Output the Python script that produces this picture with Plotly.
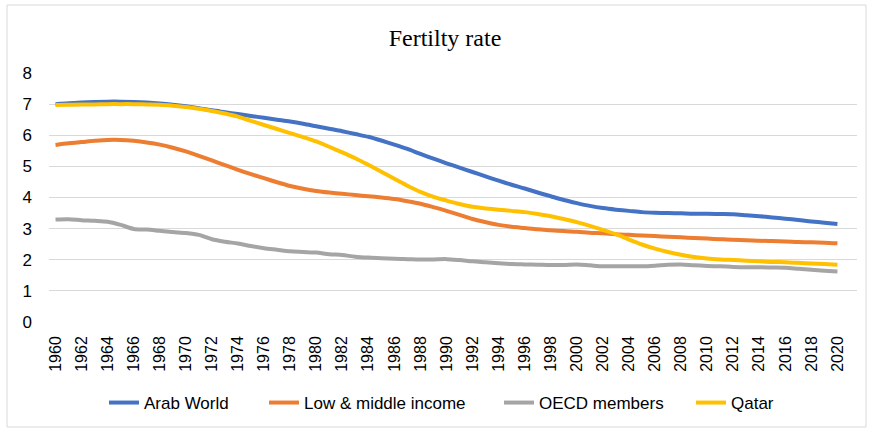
import plotly.graph_objects as go

years = list(range(1960, 2021))

arab_world = [7.00, 7.03, 7.05, 7.07, 7.08, 7.08, 7.07, 7.05, 7.02, 6.98,
              6.93, 6.87, 6.80, 6.74, 6.68, 6.62, 6.56, 6.50, 6.44, 6.37,
              6.29, 6.21, 6.13, 6.04, 5.95, 5.83, 5.70, 5.56, 5.40, 5.25,
              5.10, 4.96, 4.82, 4.68, 4.54, 4.41, 4.29, 4.16, 4.04, 3.92,
              3.82, 3.73, 3.66, 3.61, 3.57, 3.53, 3.51, 3.50, 3.49, 3.48,
              3.48, 3.47, 3.46, 3.43, 3.40, 3.36, 3.32, 3.28, 3.23, 3.19,
              3.15]

low_middle = [5.69, 5.74, 5.78, 5.82, 5.85, 5.85, 5.82, 5.77, 5.70, 5.60,
              5.48, 5.34, 5.19, 5.04, 4.89, 4.75, 4.62, 4.49, 4.37, 4.28,
              4.21, 4.16, 4.12, 4.08, 4.04, 4.00, 3.95, 3.88, 3.80, 3.69,
              3.57, 3.44, 3.31, 3.21, 3.12, 3.06, 3.02, 2.98, 2.95, 2.92,
              2.90, 2.87, 2.85, 2.82, 2.80, 2.78, 2.76, 2.74, 2.72, 2.70,
              2.68, 2.66, 2.64, 2.63, 2.61, 2.60, 2.59, 2.57, 2.56, 2.55,
              2.53]

oecd = [3.29, 3.30, 3.27, 3.25, 3.22, 3.12, 2.99, 2.97, 2.93, 2.89,
        2.86, 2.80, 2.66, 2.58, 2.52, 2.44, 2.37, 2.32, 2.27, 2.25,
        2.23, 2.18, 2.15, 2.10, 2.07, 2.05, 2.03, 2.02, 2.01, 2.01,
        2.02, 1.99, 1.95, 1.92, 1.89, 1.86, 1.85, 1.84, 1.83, 1.83,
        1.85, 1.82, 1.79, 1.79, 1.79, 1.79, 1.81, 1.84, 1.85, 1.82,
        1.80, 1.79, 1.77, 1.76, 1.76, 1.75, 1.74, 1.71, 1.68, 1.65,
        1.62]

qatar = [6.97, 6.98, 6.99, 6.99, 7.00, 7.00, 7.00, 6.99, 6.98, 6.95,
         6.91, 6.85, 6.78, 6.70, 6.60, 6.46, 6.33, 6.20, 6.07, 5.94,
         5.80, 5.63, 5.45, 5.26, 5.05, 4.83, 4.60, 4.38, 4.18, 4.02,
         3.90, 3.79, 3.70, 3.65, 3.61, 3.57, 3.53, 3.47, 3.40, 3.31,
         3.21, 3.09, 2.96, 2.82, 2.65, 2.49, 2.36, 2.25, 2.16, 2.09,
         2.04, 2.01, 1.99, 1.97, 1.95, 1.93, 1.92, 1.90, 1.88, 1.86,
         1.84]

series_names = ["Arab World", "Low & middle income", "OECD members", "Qatar"]
series_values = [arab_world, low_middle, oecd, qatar]
series_colors = ["#4472C4", "#ED7D31", "#A5A5A5", "#FFC000"]

tick_years = list(range(1960, 2021, 2))
y_ticks = list(range(0, 9))

W, H = 870, 431
L, R, T, B = 49, 13, 73, 109
pw = W - L - R
ph = H - T - B

legend_px = [110, 270, 505, 697]
legend_keys = ["legend", "legend2", "legend3", "legend4"]

fig = go.Figure()
for name, vals, col, lk in zip(series_names, series_values, series_colors, legend_keys):
    fig.add_trace(go.Scatter(
        x=years, y=vals, name=name, mode="lines", legend=lk,
        line=dict(color=col, width=4, shape="spline", smoothing=0.8),
        hoverinfo="skip",
    ))

legend_y = (ph - (403 - T)) / ph
legends = {}
for lk, px in zip(legend_keys, legend_px):
    legends[lk] = dict(orientation="h", x=(px - 6 - L) / pw, xanchor="left",
                       y=legend_y, yanchor="middle",
                       font=dict(family="Liberation Sans, Arial, sans-serif", size=17, color="#000000"),
                       bgcolor="rgba(0,0,0,0)", borderwidth=0)

fig.update_layout(
    width=W, height=H,
    margin=dict(l=L, r=R, t=T, b=B, autoexpand=False),
    paper_bgcolor="white", plot_bgcolor="white",
    font=dict(family="Liberation Sans, Arial, sans-serif", size=16, color="#000000"),
    title=dict(text="Fertilty rate", x=(445 - L) / pw, xref="paper", xanchor="center",
               y=1 - 38 / H, yref="container", yanchor="middle",
               font=dict(family="Liberation Serif, Times New Roman, serif", size=24, color="#000000")),
    showlegend=True,
    xaxis=dict(range=[1959.5, 2021.5], tickvals=tick_years, ticktext=[str(t) for t in tick_years],
               tickangle=-90, showgrid=False, zeroline=False, showline=False,
               ticks="", ticklabelstandoff=10, fixedrange=True),
    yaxis=dict(range=[0, 8], tickvals=y_ticks, showgrid=True, gridcolor="#D9D9D9",
               gridwidth=1, zeroline=False, showline=False, ticks="",
               ticklabelstandoff=16, fixedrange=True, tickfont=dict(size=17)),
    shapes=[dict(type="rect", xref="paper", yref="paper",
                 x0=(7 - L) / pw, x1=(866 - L) / pw,
                 y0=(H - B - 427) / ph, y1=(H - B - 5) / ph,
                 line=dict(color="#D9D9D9", width=1), fillcolor="rgba(0,0,0,0)",
                 layer="below")],
    **legends,
)

fig.write_html("out.html",
               config={"displayModeBar": False, "staticPlot": True},
               post_script="document.body.style.margin='0px';document.body.style.padding='0px';")
